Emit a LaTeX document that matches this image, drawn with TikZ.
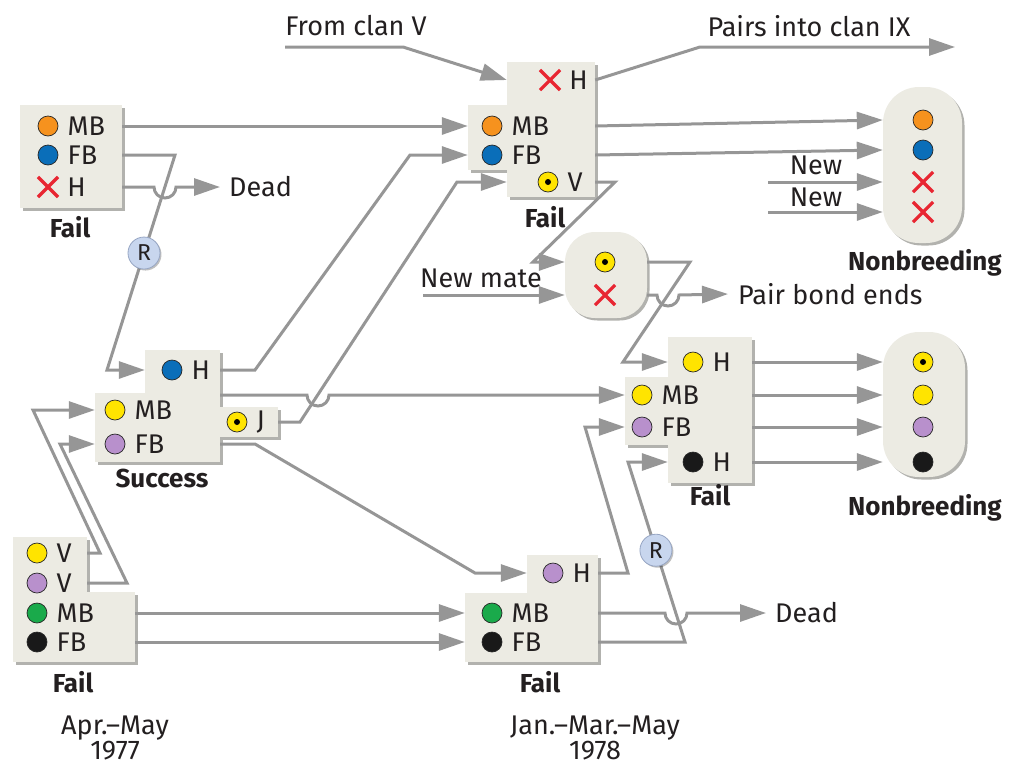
\documentclass[tikz,border=0pt]{standalone}
\usepackage{fontspec}
\setmainfont{Fira Sans}
\usetikzlibrary{shapes.misc,arrows.meta,positioning,calc,shadows}
\definecolor{panelbg}{RGB}{236,235,227}
\definecolor{panelshade}{RGB}{178,178,174}
\definecolor{linegray}{RGB}{150,150,150}
\definecolor{cOrange}{RGB}{246,146,30}
\definecolor{cBlue}{RGB}{10,110,185}
\definecolor{cYellow}{RGB}{255,228,0}
\definecolor{cPurple}{RGB}{184,144,204}
\definecolor{cGreen}{RGB}{26,170,75}
\definecolor{cBlack}{RGB}{25,25,25}
\definecolor{cRed}{RGB}{232,38,50}
\definecolor{rFill}{RGB}{200,214,238}
\definecolor{rEdge}{RGB}{150,165,195}
\definecolor{ink}{RGB}{35,31,32}
\tikzset{
    panel/.style={rectangle, fill=panelbg, inner sep=0pt, drop shadow={shadow xshift=2.5pt, shadow yshift=-2.5pt, opacity=1, fill=panelshade}},
    pod/.style={panel, rounded corners=36pt},
    token/.style={circle, draw=black!85, line width=0.7pt, fill=#1, minimum size=20pt, inner sep=0pt},
    focal/.style={token=cYellow, path picture={\fill[black] (path picture bounding box.center) circle[radius=3pt];}},
    gone/.style={cross out, draw=cRed, line width=3.2pt, minimum size=17pt, inner sep=0pt},
    tag/.style={inner sep=0pt, text=ink, font=\fontsize{27}{31}\selectfont},
    season/.style={tag, align=center, font=\fontsize{27}{24}\selectfont},
    verdict/.style={inner sep=0pt, text=ink, font=\fontsize{26}{30}\selectfont\bfseries},
    rmark/.style={circle, draw=rEdge, line width=0.8pt, fill=rFill, minimum size=32pt, inner sep=0pt, text=ink, font=\fontsize{23}{27}\selectfont, drop shadow={shadow xshift=1.5pt, shadow yshift=-1.5pt, opacity=0.25, fill=black}},
    flow/.style={draw=linegray, line width=3pt, -{Triangle[length=26pt, width=17pt]}}
}
% one bird in a panel: marker, then its role
\newcommand{\bird}[4]{%
    \node[#2] (#1m) at (#3) {};
    \node[tag, right=9pt of #1m] (#1) {#4};}

\begin{document}
\begin{tikzpicture}[x=1pt, y=-1pt]
    \useasboundingbox (0,0) rectangle (1011,769);

    % panels (back parts first so shadows stay behind)
    \node[panel, minimum width=102pt, minimum height=103pt] (aBox) at (71,156.5) {};
    \node[panel, minimum width=52pt, minimum height=65pt] (bLeft) at (494,137.5) {};
    \node[panel, minimum width=88pt, minimum height=135pt] (bUp) at (551,129.5) {};
    \node[panel, minimum width=75pt, minimum height=50pt] (sUp) at (182.5,375) {};
    \node[panel, minimum width=125pt, minimum height=69pt] (sMain) at (157.5,427.5) {};
    \node[panel, minimum width=60pt, minimum height=30pt] (sJbox) at (248,422) {};
    \node[panel, minimum width=55pt, minimum height=68pt] (cLeft) at (652.5,411) {};
    \node[panel, minimum width=84pt, minimum height=146pt] (cUp) at (710,410) {};
    \node[panel, minimum width=75pt, minimum height=69pt] (dLeft) at (502.5,627.5) {};
    \node[panel, minimum width=71pt, minimum height=107pt] (dUp) at (562.5,608.5) {};
    \node[panel, minimum width=74pt, minimum height=63pt] (eUp) at (50,568.5) {};
    \node[panel, minimum width=122pt, minimum height=70pt] (eLow) at (74,627) {};
    \node[pod, minimum width=79pt, minimum height=156pt] (nbTop) at (922.5,165) {};
    \node[pod, minimum width=82pt, minimum height=145pt] (nbLow) at (924,404.5) {};
    \node[pod, rounded corners=30pt, minimum width=82pt, minimum height=86pt] (pair) at (606,275) {};

    % birds
    \bird{aMB}{token=cOrange}{48,126}{MB}
    \bird{aFB}{token=cBlue}{48,155}{FB}
    \bird{aH}{gone}{48,187}{H}
    \bird{bH}{gone}{550,80}{H}
    \bird{bMB}{token=cOrange}{492,126}{MB}
    \bird{bFB}{token=cBlue}{492,155}{FB}
    \bird{bV}{focal}{548,182}{V}
    \bird{sH}{token=cBlue}{172,370}{H}
    \bird{sMB}{token=cYellow}{115,410}{MB}
    \bird{sFB}{token=cPurple}{115,444}{FB}
    \bird{sJ}{focal}{237,422}{J}
    \bird{cH1}{token=cYellow}{693,362}{H}
    \bird{cMB}{token=cYellow}{642,395}{MB}
    \bird{cFB}{token=cPurple}{642,427}{FB}
    \bird{cH2}{token=cBlack}{693,462}{H}
    \bird{dH}{token=cPurple}{553,573}{H}
    \bird{dMB}{token=cGreen}{492,613}{MB}
    \bird{dFB}{token=cBlack}{492,642}{FB}
    \bird{eV1}{token=cYellow}{37,553}{V}
    \bird{eV2}{token=cPurple}{37,583}{V}
    \bird{eMB}{token=cGreen}{37,613}{MB}
    \bird{eFB}{token=cBlack}{37,642}{FB}

    \node[token=cOrange] (n1) at (923,120) {};
    \node[token=cBlue] (n2) at (923,150) {};
    \node[gone] (n3) at (923,182) {};
    \node[gone] (n4) at (923,212) {};
    \node[focal] (m1) at (923,362) {};
    \node[token=cYellow] (m2) at (923,395) {};
    \node[token=cPurple] (m3) at (923,427) {};
    \node[token=cBlack] (m4) at (923,462) {};
    \node[focal] (pDot) at (605,262) {};
    \node[gone] (pX) at (605,295) {};

    % outcomes and captions
    \node[verdict] at (70,227) {Fail};
    \node[verdict] at (545,217) {Fail};
    \node[verdict] at (162,478) {Success};
    \node[verdict] at (710,495) {Fail};
    \node[verdict] at (540,682) {Fail};
    \node[verdict] at (73,682) {Fail};
    \node[verdict] at (925,263) {Nonbreeding};
    \node[verdict] at (925,508) {Nonbreeding};
    \node[season] at (115,738) {Apr.--May\\1977};
    \node[season] at (595,738) {Jan.--Mar.--May\\1978};

    \node[tag] at (356,26) {From clan V};
    \node[tag] at (809,26) {Pairs into clan IX};
    \node[tag] at (816,165) {New};
    \node[tag] at (816,197) {New};
    \node[tag] at (481,278) {New mate};
    \node[tag, anchor=west, inner xsep=9pt] (deadA) at (220,187) {Dead};
    \node[tag, anchor=west, inner xsep=9pt] (deadB) at (766,613) {Dead};
    \node[tag, anchor=west, inner xsep=10pt] (bondEnds) at (728,294) {Pair bond ends};
    \coordinate (fromVfoot) at (285,47);
    \coordinate (clanIX) at (955,47);
    \coordinate (newA) at (768,182);
    \coordinate (newB) at (768,212);
    \coordinate (mateFoot) at (423,295);

    % 1977 season
    \draw[flow] (aBox.east |- aMB) -- (bLeft.west |- bMB);
    \draw[flow] (aBox.east |- aFB) -- (175,155) -- node[rmark, pos=0.456] (rA) {R} (107,370) -- (sUp.west |- sH);
    \draw[flow] (aBox.east |- aH) -- (154,187) arc[start angle=180, end angle=360, radius=11pt] -- (deadA.west);
    \draw[flow] (eUp.east |- eV1) -- (100,553) -- (33,410) -- (sMain.west |- sMB);
    \draw[flow] (eUp.east |- eV2) -- (127,583) -- (60,444) -- (sMain.west |- sFB);
    \draw[flow] (eLow.east |- eMB) -- (dLeft.west |- dMB);
    \draw[flow] (eLow.east |- eFB) -- (dLeft.west |- dFB);

    % out of the successful group
    \draw[flow] (sUp.east |- sH) -- (255,370) -- (410,155) -- (bLeft.west |- bFB);
    \draw[flow] (sJbox.east |- sJ) -- (300,422) -- (457,182) -- (bUp.west |- bV);
    \draw[flow] (sMain.east |- cMB) -- (307,395) arc[start angle=180, end angle=360, radius=11pt] -- (cLeft.west |- cMB);
    \draw[flow] (sMain.east |- sFB) -- (255,444) -- (475,573) -- (dUp.west |- dH);

    % 1978 season, top
    \draw[flow] (fromVfoot) -- (403,47) -- (bUp.west |- bH);
    \draw[flow] (bUp.east |- bH) -- (700,47) -- (clanIX);
    \draw[flow] (bUp.east |- bMB) -- (nbTop.west |- n1);
    \draw[flow] (bUp.east |- bFB) -- (nbTop.west |- n2);
    \draw[flow] (newA) -- (nbTop.west |- n3);
    \draw[flow] (newB) -- (nbTop.west |- n4);
    \draw[flow] (bUp.east |- bV) -- (615,182) -- (533,262) -- (pair.west |- pDot);
    \draw[flow] (mateFoot) -- (pair.west |- pX);
    \draw[flow] (pair.east |- pDot) -- (690,262) -- (623,362) -- (cUp.west |- cH1);
    \draw[flow] (pair.east |- pX) -- (657,295) arc[start angle=180, end angle=360, radius=11pt] -- (bondEnds.west);

    % 1978 season, bottom
    \draw[flow] (dUp.east |- dH) -- (628,573) -- (585,427) -- (cLeft.west |- cFB);
    \draw[flow] (dUp.east |- dFB) -- (685,642) -- node[rmark, pos=0.51] (rB) {R} (628,462) -- (cUp.west |- cH2);
    \draw[flow] (dUp.east |- dMB) -- (665,613) arc[start angle=180, end angle=360, radius=11pt] -- (deadB.west);
    \foreach \r/\n in {cH1/m1, cMB/m2, cFB/m3, cH2/m4}
        \draw[flow] (cUp.east |- \r) -- (nbLow.west |- \n);
\end{tikzpicture}
\end{document}
